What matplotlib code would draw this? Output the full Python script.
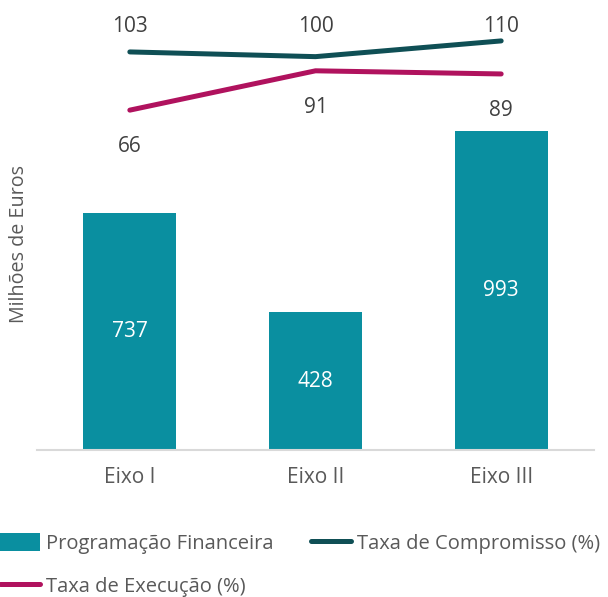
import matplotlib.pyplot as plt
from matplotlib.lines import Line2D
from matplotlib.patches import Patch

# ── Data ─────────────────────────────────────────────────────────────────────
categories = ["Eixo I", "Eixo II", "Eixo III"]
programacao = [737, 428, 993]          # Milhões de Euros
taxa_compromisso = [103, 100, 110]     # %
taxa_execucao = [66, 91, 89]           # %

# ── Style ────────────────────────────────────────────────────────────────────
BAR_COLOR = "#0a8fa0"
COMP_COLOR = "#0f4f55"
EXEC_COLOR = "#b0125e"
TEXT_GRAY = "#595959"
NUM_GRAY = "#404040"

plt.rcParams["font.family"] = ["Open Sans", "DejaVu Sans"]

fig = plt.figure(figsize=(6.08, 5.97), dpi=100)
ax = fig.add_axes([37 / 608, 147 / 597, 557 / 608, 450 / 597])

x = range(len(categories))
bars = ax.bar(x, programacao, width=0.5, color=BAR_COLOR, zorder=2)
ax.set_xlim(-0.5, len(categories) - 0.5)
ax.set_ylim(0, 1400)
ax.set_xticks(list(x))
ax.set_xticklabels(categories, fontsize=15, color=TEXT_GRAY)
ax.tick_params(axis="x", length=0, pad=12)
ax.set_yticks([])
for side in ("top", "right", "left"):
    ax.spines[side].set_visible(False)
ax.spines["bottom"].set_color("#d9d9d9")
ax.spines["bottom"].set_linewidth(1.5)

for rect, v in zip(bars, programacao):
    ax.text(rect.get_x() + rect.get_width() / 2, v / 2, f"{v}",
            ha="center", va="center", color="white", fontsize=15)

fig.text(19 / 608, 1 - 244 / 597, "Milhões de Euros", rotation=90,
         ha="center", va="center", fontsize=14.2, color=TEXT_GRAY)

# Secondary (hidden) axis for rates
ax2 = ax.twinx()
ax2.set_ylim(-150, 136)
ax2.axis("off")
ax2.plot(list(x), taxa_compromisso, color=COMP_COLOR, lw=3.6,
         solid_capstyle="round", zorder=3)
ax2.plot(list(x), taxa_execucao, color=EXEC_COLOR, lw=3.6,
         solid_capstyle="round", zorder=3)

# compromisso labels sit on a common row above the line
label_row = max(taxa_compromisso) + 9
for i, v in enumerate(taxa_compromisso):
    ax2.text(i, label_row, f"{v}", ha="center", va="center",
             fontsize=15, color=NUM_GRAY)
for i, v in enumerate(taxa_execucao):
    ax2.annotate(f"{v}", (i, v), xytext=(0, -26.5), textcoords="offset points",
                 ha="center", va="center", fontsize=15, color=NUM_GRAY)

# Legend
handles = [
    Patch(facecolor=BAR_COLOR, edgecolor="none"),
    Line2D([], [], color=EXEC_COLOR, lw=3.6, solid_capstyle="round"),
    Line2D([], [], color=COMP_COLOR, lw=3.6, solid_capstyle="round"),
]
labels = ["Programação Financeira", "Taxa de Execução (%)", "Taxa de Compromisso (%)"]
fig.legend(handles, labels, ncol=2, loc="upper left",
           bbox_to_anchor=(0, 1 - 533 / 597), frameon=False,
           fontsize=14.5, labelcolor=TEXT_GRAY, handlelength=2.0,
           handleheight=1.0, handletextpad=0.3, columnspacing=1.85,
           labelspacing=1.1, borderpad=0, borderaxespad=0)

fig.savefig("out.png", dpi=100)
